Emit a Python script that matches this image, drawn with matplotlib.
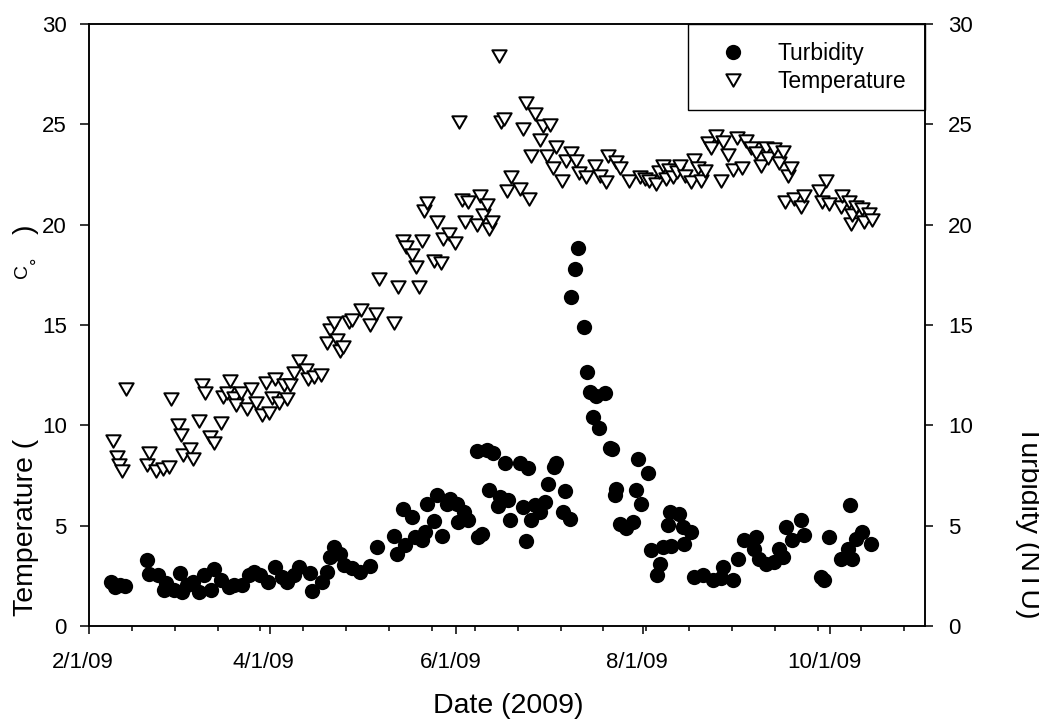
import numpy as np
import matplotlib
matplotlib.use("Agg")
import matplotlib.pyplot as plt
import matplotlib.dates as mdates
from matplotlib.transforms import ScaledTranslation
from matplotlib.path import Path
from matplotlib.patches import Rectangle

plt.rcParams['font.family'] = ['Liberation Sans', 'DejaVu Sans']

# ---------------- data (x = days after 2009-02-01) ----------------
START = "2009-02-01"
END = "2009-11-01"

temp_day = [8.0, 9.0, 9.9, 10.7, 12.1, 18.9, 19.6, 21.8, 24.2, 26.0, 26.9, 29.0, 30.0, 30.8,
            32.9, 33.8, 35.9, 37.0, 37.8, 39.4, 40.8, 43.0, 43.7, 45.2, 45.9, 47.3, 47.9, 49.5,
            51.7, 52.8, 54.4, 56.6, 57.9, 58.7, 59.8, 60.9, 62.0, 63.6, 64.7, 65.8, 66.9, 68.5,
            70.7, 71.4, 73.4, 75.8, 77.7, 78.8, 79.9, 81.0, 82.1, 82.9, 84.8, 85.9, 88.8, 91.6,
            93.7, 94.8, 99.7, 100.8, 102.7, 103.6, 105.4, 106.8, 107.7, 108.7, 109.4, 110.5,
            112.5, 113.6, 114.9, 115.5, 117.4, 119.5, 120.7, 121.7, 122.8, 123.9, 126.6, 127.7,
            128.8, 129.9, 130.7, 131.5, 133.8, 134.4, 135.5, 136.6, 137.7, 140.7, 141.6, 142.7,
            143.7, 144.5, 145.6, 147.4, 148.1, 149.4, 150.5, 151.6, 152.6, 154.6, 155.9, 157.5,
            159.0, 160.0, 162.4, 165.1, 166.8, 168.7, 169.5, 172.2, 173.3, 176.5, 179.8, 181.5,
            183.0, 185.2, 186.0, 187.4, 188.5, 189.5, 190.6, 192.0, 193.0, 194.5, 196.6, 197.7,
            198.8, 199.9, 201.0, 202.0, 203.1, 204.6, 206.4, 206.9, 208.6, 210.2, 211.5, 213.2,
            214.5, 216.2, 217.8, 219.4, 221.1, 221.6, 223.8, 225.4, 226.5, 227.4, 228.1, 229.2,
            230.3, 232.5, 233.6, 238.4, 239.5, 240.6, 241.7, 245.5, 246.0, 248.2, 248.8, 249.3,
            250.4, 252.5, 253.1, 254.7, 255.8]
temp_val = [9.2, 8.4, 8.0, 7.7, 11.8, 8.0, 8.6, 7.7, 7.8, 7.9, 11.3, 10.0, 9.5, 8.5,
            8.8, 8.3, 10.2, 12.0, 11.6, 9.4, 9.1, 10.1, 11.4, 11.6, 12.2, 11.35, 11.0, 11.6,
            10.8, 11.8, 11.1, 10.5, 12.1, 10.6, 11.35, 12.3, 11.1, 12.0, 11.3, 12.0, 12.6, 13.2,
            12.75, 12.3, 12.4, 12.5, 14.1, 14.75, 15.1, 14.25, 13.7, 13.9, 15.15, 15.25, 15.75, 15.0,
            15.55, 17.3, 15.1, 16.9, 19.2, 18.9, 18.5, 17.9, 16.9, 19.2, 20.7, 21.1,
            18.2, 20.15, 18.1, 19.3, 19.55, 19.1, 25.1, 21.25, 20.15, 21.15, 20.0, 21.45,
            20.5, 21.0, 19.8, 20.15, 28.4, 25.1, 25.25, 21.7, 22.4, 21.8, 24.75, 26.05,
            21.3, 23.4, 25.5, 24.2, 24.9, 23.4, 24.95, 22.8, 23.85, 22.2, 23.15, 23.55,
            23.15, 22.55, 22.4, 22.9, 22.45, 22.15, 23.4, 23.1, 22.8, 22.2, 22.4, 22.3,
            22.2, 22.05, 22.6, 22.9, 22.3, 22.7, 22.4, 22.6, 22.9, 22.45, 22.15, 23.2,
            22.8, 22.2, 22.65, 24.05, 23.8, 24.4, 22.2, 24.1, 23.45, 22.7, 24.3, 22.8,
            24.15, 23.8, 23.55, 22.9, 23.8, 23.3, 23.75, 23.05, 23.6, 21.15, 22.45, 22.8,
            21.3, 20.9, 21.45, 21.7, 21.15, 22.2, 21.05, 20.9, 21.45, 21.15, 20.05, 20.5,
            20.9, 20.8, 20.15, 20.55, 20.25]

turb_day = [7.2, 8.6, 10.0, 11.6, 18.9, 19.6, 22.4, 24.5, 25.1, 27.8, 29.8, 30.5, 32.1, 33.8,
            35.9, 37.6, 39.7, 40.8, 43.0, 45.7, 47.3, 50.1, 52.2, 53.8, 56.0, 58.5, 60.9, 63.1,
            64.7, 66.9, 68.5, 72.3, 72.9, 76.1, 77.7, 78.8, 79.9, 82.1, 83.2, 85.9, 88.6, 91.9,
            94.0, 99.7, 100.5, 102.7, 103.3, 105.4, 106.5, 108.7, 109.8, 110.3, 112.5, 113.6,
            115.2, 116.8, 117.9, 120.1, 120.6, 122.3, 123.9, 126.6, 127.1, 128.2, 129.9, 130.7,
            132.0, 133.4, 134.2, 135.8, 136.9, 137.5, 140.7, 141.8, 142.7, 143.4, 144.5, 145.6,
            147.2, 148.9, 149.9, 151.8, 152.6, 154.8, 155.6, 157.0, 157.5, 158.6, 159.7, 161.6,
            162.6, 163.7, 164.6, 165.5, 166.6, 168.4, 170.0, 170.8, 171.7, 172.2, 173.3, 175.5,
            177.6, 178.5, 179.3, 180.3, 182.5, 183.6, 185.4, 186.3, 187.4, 189.0, 189.6, 190.2,
            192.8, 193.9, 194.3, 196.6, 197.7, 200.4, 203.7, 206.4, 206.9, 210.2, 211.8, 214.0,
            217.3, 217.8, 218.9, 221.1, 223.8, 225.4, 226.5, 227.6, 229.7, 232.5, 233.6, 239.0,
            240.1, 241.5, 245.5, 247.7, 248.4, 249.3, 250.4, 252.5, 255.3]
turb_val = [2.2, 1.95, 2.05, 2.0, 3.3, 2.6, 2.55, 1.8, 2.15, 1.8, 2.65, 1.7, 2.05, 2.2,
            1.7, 2.55, 1.8, 2.85, 2.3, 1.95, 2.05, 2.05, 2.55, 2.7, 2.55, 2.2, 2.95, 2.45,
            2.2, 2.55, 2.95, 2.65, 1.75, 2.2, 2.7, 3.45, 3.95, 3.6, 3.05, 2.9, 2.7, 3.0,
            3.95, 4.5, 3.6, 5.85, 4.05, 5.45, 4.45, 4.3, 4.7, 6.1, 5.25, 6.55,
            4.5, 6.1, 6.35, 6.1, 5.2, 5.7, 5.3, 8.7, 4.45, 4.6, 8.75, 6.8,
            8.6, 6.0, 6.45, 8.1, 6.3, 5.3, 8.1, 5.95, 4.25, 7.85, 5.3, 6.05,
            5.7, 6.2, 7.1, 7.9, 8.1, 5.7, 6.75, 5.35, 16.4, 17.8, 18.85, 14.9,
            12.65, 11.65, 10.4, 11.45, 9.85, 11.6, 8.85, 8.8, 6.55, 6.85, 5.1, 4.9,
            5.2, 6.8, 8.3, 6.1, 7.6, 3.8, 2.55, 3.1, 3.95, 5.05, 5.7, 4.0,
            5.6, 4.95, 4.1, 4.7, 2.45, 2.55, 2.3, 2.4, 2.95, 2.3, 3.35, 4.3,
            3.85, 4.45, 3.35, 3.1, 3.2, 3.85, 3.45, 4.95, 4.3, 5.3, 4.55, 2.45,
            2.3, 4.45, 3.35, 3.85, 6.05, 3.35, 4.35, 4.7, 4.1]

major_dates = ["2009-02-01", "2009-04-01", "2009-06-01", "2009-08-01", "2009-10-01"]
major_labels = ["2/1/09", "4/1/09", "6/1/09", "8/1/09", "10/1/09"]
minor_step_days = 14
y_ticks = [0, 5, 10, 15, 20, 25, 30]

# ---------------- figure ----------------
W, H = 1039, 721
fig = plt.figure(figsize=(W / 100, H / 100), dpi=100)
ax = fig.add_axes([89 / W, 1 - 626 / H, (925 - 89) / W, (626 - 24) / H])
ax2 = ax.twinx()

x0 = mdates.datestr2num(START)
x1 = mdates.datestr2num(END)
tx = x0 + np.asarray(temp_day)
bx = x0 + np.asarray(turb_day)

# equilateral downward triangle (closed path)
tri = Path([(-1, 0.866), (1, 0.866), (0, -0.866), (-1, 0.866)],
           [Path.MOVETO, Path.LINETO, Path.LINETO, Path.CLOSEPOLY])
ax.plot(tx, temp_val, linestyle='none', marker=tri, ms=10.3, mfc='white',
        mec='black', mew=1.45, label='Temperature', zorder=3)
ax2.plot(bx, turb_val, linestyle='none', marker='o', ms=11, mfc='black',
         mec='black', mew=0, label='Turbidity', zorder=3)

for a in (ax, ax2):
    a.set_ylim(0, 30)
    a.set_yticks(y_ticks)
    a.set_xlim(x0, x1)
    for s in a.spines.values():
        s.set_linewidth(1.1)

ax.set_xticks([mdates.datestr2num(d) for d in major_dates])
ax.set_xticklabels(major_labels)
ax.set_xticks(x0 + np.arange(minor_step_days, x1 - x0, minor_step_days), minor=True)

ax.tick_params(axis='x', which='major', direction='out', length=6, width=1.1,
               labelsize=16, pad=12.5)
ax.tick_params(axis='x', which='minor', direction='out', length=3.6, width=1.1)
ax.tick_params(axis='y', which='major', direction='out', length=6.5, width=1.1,
               labelsize=16, pad=9.5, left=True, right=False)
ax2.tick_params(axis='y', which='major', direction='out', length=6, width=1.1,
                labelsize=16, pad=10.5, right=True, left=False)
ax2.tick_params(axis='x', which='both', bottom=False, top=False)

offset = ScaledTranslation(-6 / 100, 0, fig.dpi_scale_trans)
for lab in ax.get_xticklabels():
    lab.set_transform(lab.get_transform() + offset)

# legend (entries placed without frame, box drawn separately)
h1, l1 = ax2.get_legend_handles_labels()
h2, l2 = ax.get_legend_handles_labels()
leg = ax2.legend(h1 + h2, l1 + l2, loc='upper left',
                 bbox_to_anchor=(710 / W, 1 - 42 / H), bbox_transform=fig.transFigure,
                 borderaxespad=0, borderpad=0, fontsize=16.5, frameon=False,
                 labelspacing=0.21, handlelength=2.0, handletextpad=0.93)
fig.patches.append(Rectangle((688 / W, 1 - 110 / H), (925 - 688) / W, (110 - 24) / H,
                             transform=fig.transFigure, fill=False, edgecolor='black',
                             linewidth=1.0, zorder=5))

# axis titles
fig.text(508 / W, 1 - 713 / H, 'Date (2009)', ha='center', va='baseline', fontsize=20.5)
fig.text(33 / W, 1 - 616 / H, 'Temperature (', rotation=90, rotation_mode='anchor',
         ha='left', va='baseline', fontsize=20.5)
fig.text(27 / W, 1 - 278 / H, 'C', rotation=90, rotation_mode='anchor',
         ha='left', va='baseline', fontsize=14)
fig.text(43 / W, 1 - 263.5 / H, '°', rotation=90, rotation_mode='anchor',
         ha='left', va='baseline', fontsize=13)
fig.text(33 / W, 1 - 234 / H, ')', rotation=90, rotation_mode='anchor',
         ha='left', va='baseline', fontsize=20.5)
fig.text(1021 / W, 1 - 425 / H, 'Turbidity (NTU)', rotation=270, rotation_mode='anchor',
         ha='left', va='baseline', fontsize=20.5)

fig.savefig('out.png', dpi=100)
